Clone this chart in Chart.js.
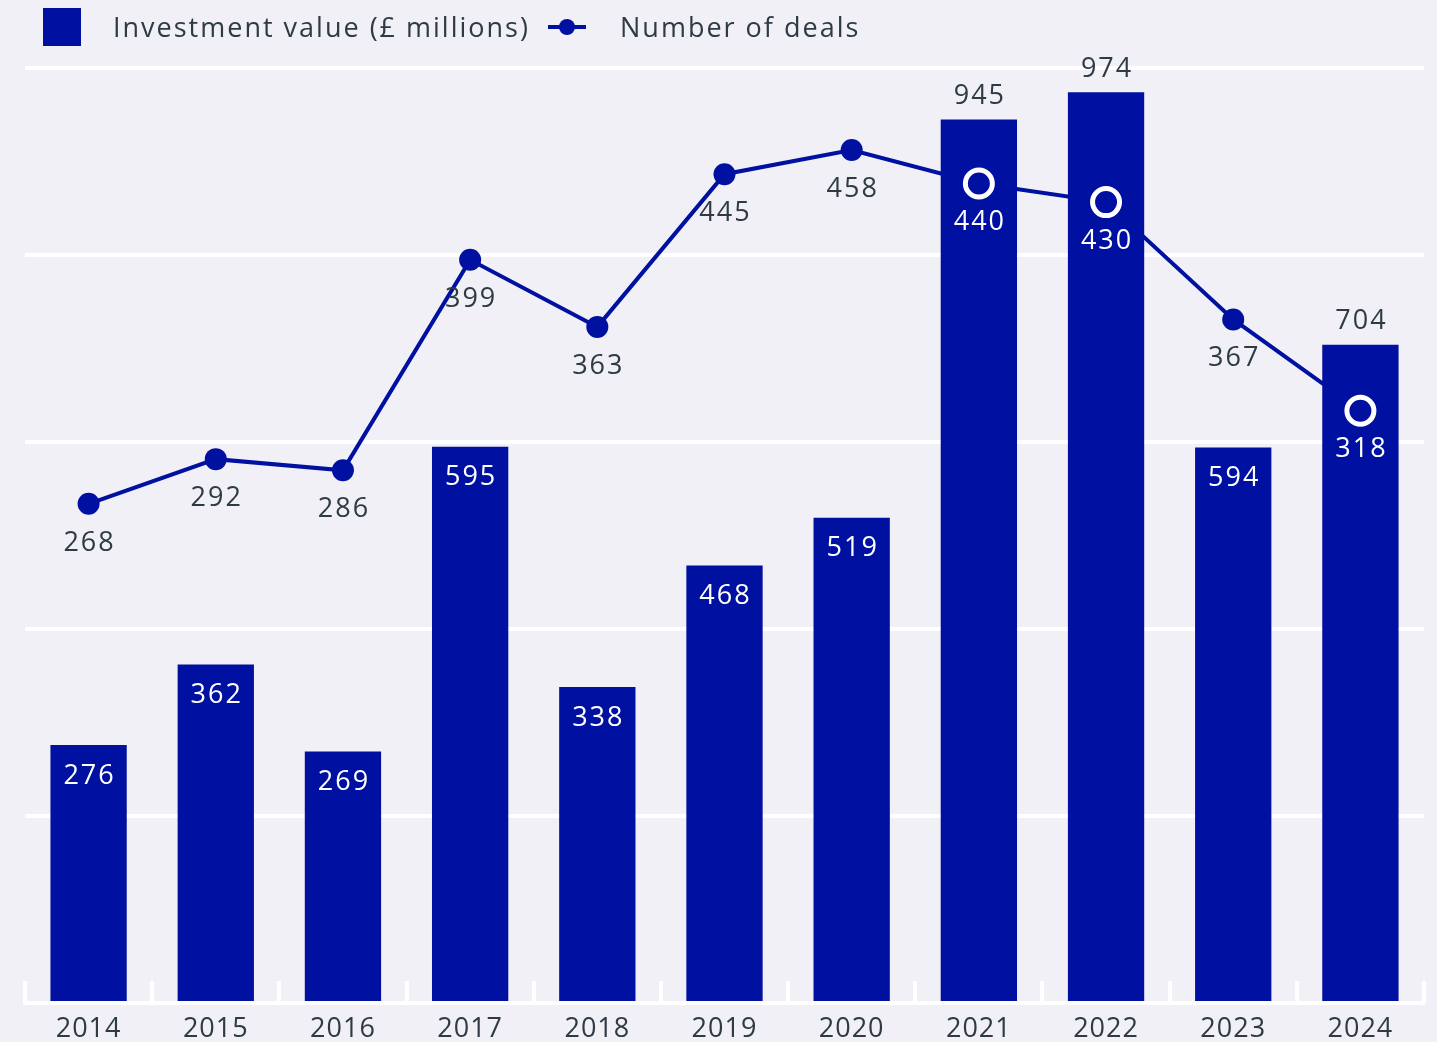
<!DOCTYPE html>
<html>
<head>
<meta charset="utf-8">
<script src="https://cdn.jsdelivr.net/npm/chart.js@4.4.1/dist/chart.umd.min.js"></script>
<style>
  body { margin: 0; background: #f0f0f6; font-family: "Open Sans", sans-serif; }
  #wrap { position: relative; width: 1437px; height: 1042px; }
  #chart { position: absolute; left: 0; top: 0; }
  .legend-item { position: absolute; top: 0; height: 54px; line-height: 54px; font-size: 27px; letter-spacing: 2px; color: #2e3a44; white-space: nowrap; }
  .swatch { position: absolute; left: 43px; top: 8px; width: 38px; height: 38px; background: #0010a0; }
  .line-swatch { position: absolute; left: 548px; top: 25px; width: 38px; height: 4px; background: #0010a0; }
  .line-swatch::after { content: ""; position: absolute; left: 11px; top: -6px; width: 16px; height: 16px; border-radius: 50%; background: #0010a0; }
</style>
</head>
<body>
<div id="wrap">
  <canvas id="chart" width="1437" height="1042"></canvas>
  <div class="swatch"></div>
  <div class="legend-item" style="left:113px">Investment value (£ millions)</div>
  <div class="line-swatch"></div>
  <div class="legend-item" style="left:620px">Number of deals</div>
</div>
<script>
const years = ["2014", "2015", "2016", "2017", "2018", "2019", "2020", "2021", "2022", "2023", "2024"];
const investment = [276, 362, 269, 595, 338, 468, 519, 945, 974, 594, 704];
const deals = [268, 292, 286, 399, 363, 445, 458, 440, 430, 367, 318];

const BLUE = "#0010a0";
const TEXT = "#2e3a44";
const FONT = '"Open Sans", sans-serif';

// a little letter spacing for the axis labels (Open Sans is narrower than the original face)
const spacing = {
  id: "spacing",
  beforeDraw(chart) { chart.ctx.letterSpacing = "1px"; },
  afterDraw(chart) { chart.ctx.letterSpacing = "0px"; },
};

// white tick marks pointing up from the baseline, between categories
const innerTicks = {
  id: "innerTicks",
  beforeDatasetsDraw(chart) {
    const { ctx, chartArea } = chart;
    const step = (chartArea.right - chartArea.left) / years.length;
    ctx.save();
    ctx.strokeStyle = "#ffffff";
    ctx.lineWidth = 4;
    for (let i = 0; i <= years.length; i++) {
      const px = Math.round(chartArea.left + step * i);
      ctx.beginPath();
      ctx.moveTo(px, chartArea.bottom);
      ctx.lineTo(px, chartArea.bottom - 22);
      ctx.stroke();
    }
    ctx.restore();
  },
};

// value labels + hollow markers where the line runs behind a bar
const labels = {
  id: "labels",
  afterDatasetsDraw(chart) {
    const ctx = chart.ctx;
    const bars = chart.getDatasetMeta(0).data;
    const pts = chart.getDatasetMeta(1).data;
    ctx.save();
    ctx.font = "27px " + FONT;
    ctx.letterSpacing = "2px";
    ctx.textAlign = "center";
    ctx.textBaseline = "middle";
    pts.forEach((pt, i) => {
      const bar = bars[i];
      const inside = pt.y > bar.y && Math.abs(pt.x - bar.x) < bar.width / 2;

      if (inside) {
        ctx.beginPath();
        ctx.arc(pt.x, pt.y, 13.5, 0, Math.PI * 2);
        ctx.strokeStyle = "#ffffff";
        ctx.lineWidth = 5;
        ctx.stroke();
      }

      // bar value (x + 1 compensates for trailing letter spacing)
      if (inside) {
        ctx.fillStyle = TEXT;
        ctx.fillText(investment[i], bar.x + 1, bar.y - 23);
      } else {
        ctx.fillStyle = "#ffffff";
        ctx.fillText(investment[i], bar.x + 1, bar.y + 31);
      }

      // deals value
      ctx.fillStyle = inside ? "#ffffff" : TEXT;
      ctx.fillText(deals[i], pt.x + 1, pt.y + 39);
    });
    ctx.restore();
  },
};

new Chart(document.getElementById("chart"), {
  data: {
    labels: years,
    datasets: [
      {
        type: "bar",
        label: "Investment value (£ millions)",
        data: investment,
        backgroundColor: BLUE,
        yAxisID: "y",
        barPercentage: 0.6,
        categoryPercentage: 1,
        order: 1,
      },
      {
        type: "line",
        label: "Number of deals",
        data: deals,
        borderColor: BLUE,
        borderWidth: 4,
        pointRadius: 11,
        pointBackgroundColor: BLUE,
        pointBorderWidth: 0,
        yAxisID: "y1",
        order: 2,
      },
    ],
  },
  options: {
    responsive: false,
    animation: false,
    layout: { padding: { left: 25, right: 13, top: 68, bottom: 0 } },
    plugins: {
      legend: { display: false },
      tooltip: { enabled: false },
    },
    scales: {
      x: {
        grid: { drawOnChartArea: false, drawTicks: false },
        border: { display: true, color: "#ffffff", width: 4 },
        ticks: { color: TEXT, font: { family: FONT, size: 27 }, padding: 10 },
        afterFit: (s) => { s.height = 39; },
      },
      y: {
        position: "left",
        min: 0,
        max: 1000,
        ticks: { stepSize: 200, display: false },
        grid: { color: "#ffffff", lineWidth: 4, drawTicks: false },
        border: { display: false },
        afterFit: (s) => { s.width = 0; },
      },
      y1: {
        display: false,
        min: 0,
        max: 502,
      },
    },
  },
  plugins: [spacing, innerTicks, labels],
});
</script>
</body>
</html>
